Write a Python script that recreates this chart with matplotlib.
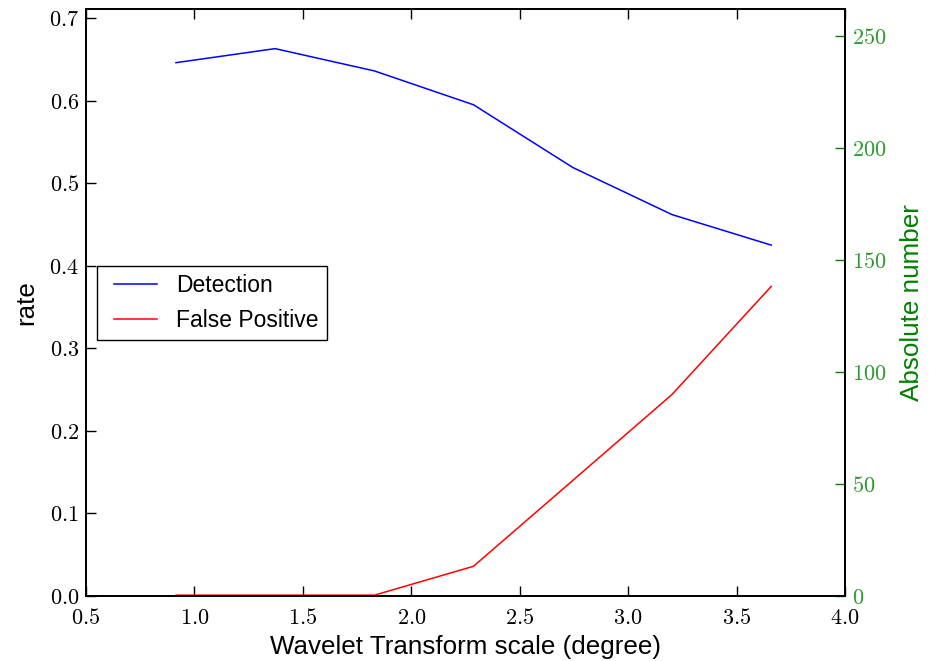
import matplotlib
matplotlib.use("Agg")
import matplotlib.pyplot as plt
from matplotlib.ticker import FuncFormatter
from matplotlib.legend_handler import HandlerLine2D

scale = [0.915, 1.372, 1.83, 2.287, 2.745, 3.202, 3.66]
detection = [0.646, 0.663, 0.636, 0.595, 0.519, 0.462, 0.425]
false_positive = [0.001, 0.001, 0.001, 0.036, 0.140, 0.244, 0.375]
xticks = [0.5, 1.0, 1.5, 2.0, 2.5, 3.0, 3.5, 4.0]
left_ticks = [0.0, 0.1, 0.2, 0.3, 0.4, 0.5, 0.6, 0.7]
right_ticks = [0, 50, 100, 150, 200, 250]

plt.rcParams['mathtext.fontset'] = 'cm'
plt.rcParams['font.family'] = ['Liberation Sans', 'DejaVu Sans']

fig = plt.figure(figsize=(9.3, 6.61), dpi=100)
ax = fig.add_axes([86/930, 1-596/661, (845-86)/930, (596-9)/661])
ax2 = ax.twinx()

l1, = ax.plot(scale, detection, color='blue', lw=1.1, label='Detection')
l2, = ax.plot(scale, false_positive, color='red', lw=1.1, label='False Positive')

ax.set_xlim(0.5, 4.0)
ax.set_ylim(0, 0.711)
ax2.set_ylim(0, 262)

fmt1 = FuncFormatter(lambda v, p: r'$%.1f$' % v)
ax.set_xticks(xticks)
ax.set_yticks(left_ticks)
ax.xaxis.set_major_formatter(fmt1)
ax.yaxis.set_major_formatter(fmt1)
ax2.set_yticks(right_ticks)
ax2.yaxis.set_major_formatter(FuncFormatter(lambda v, p: r'$%d$' % v))

ax.tick_params(direction='in', length=7, width=1, labelsize=16, top=True, right=False, pad=5)
ax.tick_params(axis='x', pad=9)
ax2.tick_params(direction='in', length=7, width=1, labelsize=16, colors='green', pad=5)
ax2.tick_params(axis='y', labelcolor='#2a9a2a')

for a in (ax, ax2):
    for s in a.spines.values():
        s.set_linewidth(1.3)

ax.set_xlabel('Wavelet Transform scale (degree)', fontsize=18.7, labelpad=4)
ax.set_ylabel('rate', fontsize=18.7, labelpad=8)
ax2.set_ylabel('Absolute number', fontsize=18.7, color='green', labelpad=10)

hm = {l1: HandlerLine2D(xpad=0.37), l2: HandlerLine2D(xpad=0.37)}
leg = ax.legend(loc='upper left', bbox_to_anchor=(0.0145, 0.563), borderaxespad=0,
                fontsize=16.5, fancybox=False, framealpha=1, edgecolor='black',
                handlelength=2.25, handletextpad=0.85, borderpad=0.35, labelspacing=0.55,
                handler_map=hm)
leg.get_frame().set_linewidth(1.0)

fig.savefig('out.png', dpi=100)
